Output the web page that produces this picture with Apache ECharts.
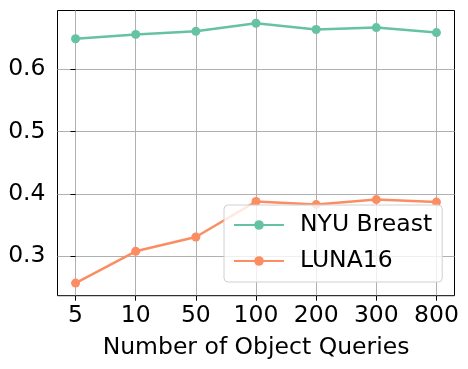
<!DOCTYPE html>
<html>
<head>
<meta charset="utf-8">
<script src="https://cdn.jsdelivr.net/npm/echarts@6/dist/echarts.min.js"></script>
<style>html,body{margin:0;padding:0;background:#fff;}#chart{width:468px;height:369px;}</style>
</head>
<body>
<div id="chart"></div>
<script>
const categories = ['5', '10', '50', '100', '200', '300', '800'];
const nyuBreast = [0.649, 0.656, 0.661, 0.674, 0.664, 0.667, 0.659];
const luna16 = [0.257, 0.308, 0.331, 0.388, 0.383, 0.391, 0.387];
const yTicks = [0.3, 0.4, 0.5, 0.6];
const xLabel = 'Number of Object Queries';

const FONT = 'DejaVu Sans';
const FS = 23.5;
const chart = echarts.init(document.getElementById('chart'), null, {renderer: 'canvas'});
const toPairs = arr => arr.map((v, i) => [i, v]);
const xIdx = categories.map((c, i) => i);

chart.setOption({
  animation: false,
  textStyle: {fontFamily: FONT},
  grid: {left: 57.5, right: 13.5, top: 10.5, bottom: 73.3, show: true, borderColor: '#000', borderWidth: 1, backgroundColor: 'transparent'},
  legend: {
    orient: 'vertical', left: 224, top: 205,
    itemWidth: 50, itemHeight: 12, itemGap: 8,
    padding: [6, 10, 7, 9],
    backgroundColor: 'rgba(255,255,255,0.8)', borderColor: '#d0d0d0', borderWidth: 1, borderRadius: 4,
    textStyle: {fontFamily: FONT, fontSize: FS, color: '#000', lineHeight: 28, padding: [0, 0, 0, 11]},
    data: ['NYU Breast', 'LUNA16']
  },
  xAxis: {
    type: 'value', min: -0.3, max: 6.3,
    name: xLabel, nameLocation: 'middle', nameGap: 40,
    nameTextStyle: {fontFamily: FONT, fontSize: FS, color: '#000'},
    axisLine: {show: false},
    axisTick: {show: true, length: 5, inside: false, lineStyle: {color: '#000'}, customValues: xIdx},
    axisLabel: {fontFamily: FONT, fontSize: FS, color: '#000', margin: 8, customValues: xIdx, formatter: v => categories[Math.round(v)]},
    splitLine: {show: true, lineStyle: {color: '#b0b0b0', width: 1}}
  },
  yAxis: {
    type: 'value', min: 0.2368, max: 0.6944,
    axisLine: {show: false},
    axisTick: {show: true, length: 5, lineStyle: {color: '#000'}, customValues: yTicks},
    axisLabel: {fontFamily: FONT, fontSize: FS, color: '#000', margin: 12, customValues: yTicks, formatter: v => v.toFixed(1)},
    splitLine: {show: true, lineStyle: {color: '#b0b0b0', width: 1}}
  },
  series: [
    {name: 'NYU Breast', type: 'line', data: toPairs(nyuBreast), color: '#66c2a5', symbol: 'circle', symbolSize: 9, lineStyle: {width: 2.5}, itemStyle: {color: '#66c2a5'}},
    {name: 'LUNA16', type: 'line', data: toPairs(luna16), color: '#fc8d62', symbol: 'circle', symbolSize: 9, lineStyle: {width: 2.5}, itemStyle: {color: '#fc8d62'}}
  ]
});
</script>
</body>
</html>
